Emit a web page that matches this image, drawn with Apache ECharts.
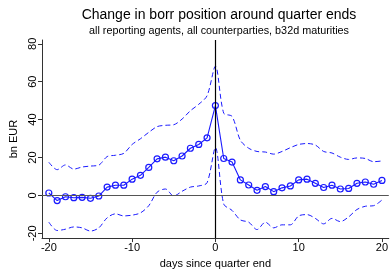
<!DOCTYPE html>
<html>
<head>
<meta charset="utf-8">
<script src="https://cdn.jsdelivr.net/npm/echarts@6/dist/echarts.min.js"></script>
<style>
  html, body { margin: 0; padding: 0; background: #fff; }
  #chart { width: 391px; height: 274px; }
</style>
</head>
<body>
<div id="chart"></div>
<script>
const days = [-20,-19,-18,-17,-16,-15,-14,-13,-12,-11,-10,-9,-8,-7,-6,-5,-4,-3,-2,-1,0,
  1,2,3,4,5,6,7,8,9,10,11,12,13,14,15,16,17,18,19,20];

const mean = [1.3,-2.7,-0.7,-1.2,-1.0,-1.5,-0.3,4.4,5.4,5.4,8.6,10.6,14.8,19.3,20.2,18.3,20.8,24.9,26.9,30.4,47.4,
  19.5,17.6,8.2,5.5,2.7,4.7,2.0,4.0,5.0,8.2,8.6,6.4,4.2,5.4,3.4,3.7,6.4,7.1,5.9,7.9];

const upper = [17.5,13.6,16.1,13.9,15.0,15.5,16.0,20.5,21.2,22.2,26.9,29.9,33.3,36.3,37.0,37.3,40.3,44.7,48.1,52.6,68.2,
  43.4,41.7,29.1,24.9,23.2,22.9,21.8,23.2,25.2,26.9,27.4,26.6,23.2,22.4,20.2,19.0,19.8,19.5,17.8,18.2];

const lower = [-14.1,-18.5,-17.8,-16.6,-17.1,-18.8,-17.1,-11.8,-9.7,-10.8,-10.4,-9.2,-5.4,1.7,3.4,-0.3,2.2,4.4,5.0,6.7,25.2,
  -4.5,-7.9,-12.9,-14.1,-18.0,-14.1,-17.1,-15.5,-15.5,-10.8,-10.1,-12.1,-15.0,-12.1,-13.8,-11.3,-7.4,-5.7,-5.4,-2.4];

const xTicks = [-20, -10, 0, 10, 20];
const yTicks = [-20, 0, 20, 40, 60, 80];

const pairs = (vals) => days.map((d, i) => [d, vals[i]]);
const font = 'Liberation Sans, Arial, sans-serif';
const blue = '#1a1aff';

const chart = echarts.init(document.getElementById('chart'));
chart.setOption({
  animation: false,
  textStyle: { fontFamily: font },
  title: {
    text: 'Change in borr position around quarter ends',
    subtext: 'all reporting agents, all counterparties, b32d maturities',
    left: 214,
    textAlign: 'center',
    top: 3,
    itemGap: 4,
    textStyle: { fontSize: 14, fontWeight: 'normal', color: '#000', fontFamily: font },
    subtextStyle: { fontSize: 10.8, color: '#000', fontFamily: font }
  },
  grid: { left: 38, top: 40, width: 354, height: 207 },
  xAxis: {
    type: 'value',
    min: -20.82,
    max: 20.82,
    name: 'days since quarter end',
    nameLocation: 'middle',
    nameGap: 17,
    nameTextStyle: { fontSize: 11, color: '#000' },
    splitLine: { show: false },
    axisLine: { show: true, onZero: false, lineStyle: { color: '#333', width: 1 } },
    axisTick: { show: true, length: 4, customValues: xTicks, lineStyle: { color: '#333' } },
    axisLabel: { customValues: xTicks, fontSize: 11, color: '#000', margin: 4 }
  },
  yAxis: {
    type: 'value',
    min: -22.5,
    max: 82,
    name: 'bn EUR',
    nameLocation: 'middle',
    nameGap: 23,
    nameTextStyle: { fontSize: 11, color: '#000' },
    splitLine: { show: false },
    axisLine: { show: true, onZero: false, lineStyle: { color: '#333', width: 1 } },
    axisTick: { show: true, length: 4, customValues: yTicks, lineStyle: { color: '#333' } },
    axisLabel: { customValues: yTicks, fontSize: 11, color: '#000', rotate: 90, margin: 4 }
  },
  series: [
    {
      type: 'line',
      data: pairs(upper),
      smooth: 0.3,
      symbol: 'none',
      lineStyle: { color: blue, width: 1, type: [5, 3] },
      z: 2
    },
    {
      type: 'line',
      data: pairs(lower),
      smooth: 0.3,
      symbol: 'none',
      lineStyle: { color: blue, width: 1, type: [5, 3] },
      z: 2
    },
    {
      type: 'line',
      data: pairs(mean),
      symbol: 'circle',
      symbolSize: 6,
      itemStyle: { color: 'rgba(0,0,0,0)', borderColor: blue, borderWidth: 1.2 },
      lineStyle: { color: blue, width: 1.1 },
      z: 3,
      markLine: {
        silent: true,
        symbol: 'none',
        label: { show: false },
        data: [
          { yAxis: 0, lineStyle: { color: '#555', width: 1.2, type: 'solid' } },
          { xAxis: 0, lineStyle: { color: '#000', width: 1.2, type: 'solid' } }
        ]
      }
    }
  ]
});
</script>
</body>
</html>
